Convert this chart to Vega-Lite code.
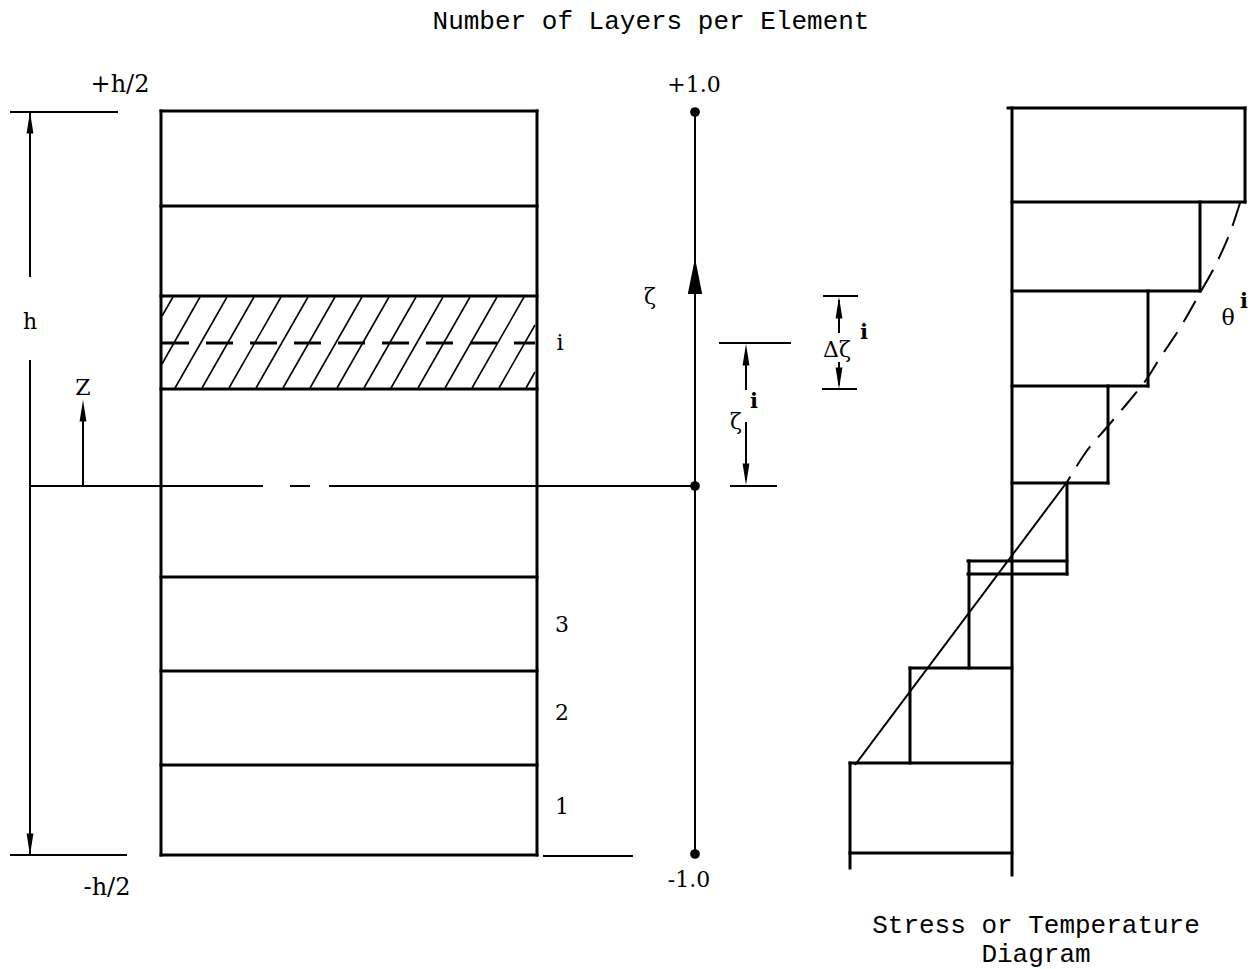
{
  "$schema": "https://vega.github.io/schema/vega-lite/v6.json",
  "width": 1253,
  "height": 969,
  "autosize": {"type": "fit", "contains": "padding"},
  "padding": 0,
  "background": "white",
  "config": {"view": {"stroke": null}},
  "datasets": {
    "segs": [
      {"g": "thick", "x": 161, "y": 111, "x2": 537, "y2": 111},
      {"g": "thick", "x": 161, "y": 855, "x2": 537, "y2": 855},
      {"g": "thick", "x": 161, "y": 111, "x2": 161, "y2": 855},
      {"g": "thick", "x": 537, "y": 111, "x2": 537, "y2": 855},
      {"g": "thick", "x": 161, "y": 206, "x2": 537, "y2": 206},
      {"g": "thick", "x": 161, "y": 296, "x2": 537, "y2": 296},
      {"g": "thick", "x": 161, "y": 389, "x2": 537, "y2": 389},
      {"g": "thick", "x": 161, "y": 577, "x2": 537, "y2": 577},
      {"g": "thick", "x": 161, "y": 671, "x2": 537, "y2": 671},
      {"g": "thick", "x": 161, "y": 765, "x2": 537, "y2": 765},
      {"g": "thick", "x": 1012, "y": 108, "x2": 1012, "y2": 875},
      {"g": "thick", "x": 1008, "y": 108, "x2": 1245, "y2": 108},
      {"g": "thick", "x": 1245, "y": 108, "x2": 1245, "y2": 202},
      {"g": "thick", "x": 1012, "y": 202, "x2": 1245, "y2": 202},
      {"g": "thick", "x": 1200, "y": 202, "x2": 1200, "y2": 291},
      {"g": "thick", "x": 1012, "y": 291, "x2": 1200, "y2": 291},
      {"g": "thick", "x": 1148, "y": 291, "x2": 1148, "y2": 386},
      {"g": "thick", "x": 1012, "y": 386, "x2": 1148, "y2": 386},
      {"g": "thick", "x": 1108, "y": 386, "x2": 1108, "y2": 483},
      {"g": "thick", "x": 1012, "y": 483, "x2": 1108, "y2": 483},
      {"g": "thick", "x": 1067, "y": 483, "x2": 1067, "y2": 574},
      {"g": "thick", "x": 968, "y": 561, "x2": 1067, "y2": 561},
      {"g": "thick", "x": 968, "y": 574, "x2": 1067, "y2": 574},
      {"g": "thick", "x": 969, "y": 561, "x2": 969, "y2": 668},
      {"g": "thick", "x": 910, "y": 668, "x2": 1012, "y2": 668},
      {"g": "thick", "x": 910, "y": 668, "x2": 910, "y2": 763},
      {"g": "thick", "x": 850, "y": 763, "x2": 1012, "y2": 763},
      {"g": "thick", "x": 850, "y": 763, "x2": 850, "y2": 868},
      {"g": "thick", "x": 850, "y": 853, "x2": 1012, "y2": 853},
      {"g": "thin", "x": 30, "y": 112, "x2": 30, "y2": 277},
      {"g": "thin", "x": 30, "y": 360, "x2": 30, "y2": 855},
      {"g": "thin", "x": 10, "y": 112, "x2": 118, "y2": 112},
      {"g": "thin", "x": 10, "y": 855, "x2": 127, "y2": 855},
      {"g": "thin", "x": 543, "y": 856, "x2": 633, "y2": 856},
      {"g": "thin", "x": 83, "y": 486, "x2": 83, "y2": 410},
      {"g": "thin", "x": 30, "y": 486, "x2": 263, "y2": 486},
      {"g": "thin", "x": 290, "y": 486, "x2": 310, "y2": 486},
      {"g": "thin", "x": 329, "y": 486, "x2": 695, "y2": 486},
      {"g": "thin", "x": 695, "y": 112, "x2": 695, "y2": 855},
      {"g": "thin", "x": 719, "y": 343, "x2": 791, "y2": 343},
      {"g": "thin", "x": 746, "y": 350, "x2": 746, "y2": 390},
      {"g": "thin", "x": 746, "y": 422, "x2": 746, "y2": 480},
      {"g": "thin", "x": 730, "y": 486, "x2": 777, "y2": 486},
      {"g": "thin", "x": 823, "y": 296, "x2": 858, "y2": 296},
      {"g": "thin", "x": 839, "y": 300, "x2": 839, "y2": 333},
      {"g": "thin", "x": 839, "y": 362, "x2": 839, "y2": 385},
      {"g": "thin", "x": 822, "y": 389, "x2": 857, "y2": 389},
      {"g": "thin", "x": 855, "y": 765, "x2": 1067, "y2": 482},
      {"g": "hatch", "x": 162, "y": 316, "x2": 173, "y2": 297},
      {"g": "hatch", "x": 162, "y": 364, "x2": 200, "y2": 297},
      {"g": "hatch", "x": 175, "y": 388, "x2": 227, "y2": 297},
      {"g": "hatch", "x": 202, "y": 388, "x2": 254, "y2": 297},
      {"g": "hatch", "x": 229, "y": 388, "x2": 281, "y2": 297},
      {"g": "hatch", "x": 256, "y": 388, "x2": 308, "y2": 297},
      {"g": "hatch", "x": 283, "y": 388, "x2": 335, "y2": 297},
      {"g": "hatch", "x": 310, "y": 388, "x2": 362, "y2": 297},
      {"g": "hatch", "x": 337, "y": 388, "x2": 389, "y2": 297},
      {"g": "hatch", "x": 364, "y": 388, "x2": 416, "y2": 297},
      {"g": "hatch", "x": 391, "y": 388, "x2": 443, "y2": 297},
      {"g": "hatch", "x": 418, "y": 388, "x2": 470, "y2": 297},
      {"g": "hatch", "x": 445, "y": 388, "x2": 497, "y2": 297},
      {"g": "hatch", "x": 472, "y": 388, "x2": 524, "y2": 297},
      {"g": "hatch", "x": 499, "y": 388, "x2": 535, "y2": 325},
      {"g": "hatch", "x": 526, "y": 388, "x2": 535, "y2": 372},
      {"g": "dash", "x": 162, "y": 343, "x2": 535, "y2": 343}
    ],
    "curve": [
      {"o": 1, "x": 1240, "y": 203},
      {"o": 2, "x": 1231, "y": 230},
      {"o": 3, "x": 1218, "y": 260},
      {"o": 4, "x": 1200, "y": 293},
      {"o": 5, "x": 1180, "y": 328},
      {"o": 6, "x": 1160, "y": 358},
      {"o": 7, "x": 1146, "y": 380},
      {"o": 8, "x": 1130, "y": 400},
      {"o": 9, "x": 1108, "y": 426},
      {"o": 10, "x": 1086, "y": 452},
      {"o": 11, "x": 1067, "y": 482}
    ],
    "pts": [
      {"g": "dot", "x": 695, "y": 112},
      {"g": "dot", "x": 695, "y": 486},
      {"g": "dot", "x": 695, "y": 854},
      {"g": "up", "x": 30, "y": 112},
      {"g": "up", "x": 83, "y": 400},
      {"g": "up", "x": 746, "y": 344},
      {"g": "up", "x": 839, "y": 297},
      {"g": "down", "x": 30, "y": 855},
      {"g": "down", "x": 746, "y": 485},
      {"g": "down", "x": 839, "y": 389},
      {"g": "bigup", "x": 695, "y": 258}
    ],
    "labels": [
      {"g": "mono", "x": 651, "y": 21, "t": "Number of Layers per Element"},
      {"g": "mono", "x": 1036, "y": 925, "t": "Stress or Temperature"},
      {"g": "mono", "x": 1036, "y": 954, "t": "Diagram"},
      {"g": "big", "x": 120, "y": 85, "t": "+h/2"},
      {"g": "big", "x": 107, "y": 888, "t": "-h/2"},
      {"g": "med", "x": 694, "y": 85, "t": "+1.0"},
      {"g": "med", "x": 689, "y": 880, "t": "-1.0"},
      {"g": "med", "x": 30, "y": 322, "t": "h"},
      {"g": "med", "x": 83, "y": 388, "t": "Z"},
      {"g": "med", "x": 560, "y": 343, "t": "i"},
      {"g": "med", "x": 562, "y": 625, "t": "3"},
      {"g": "med", "x": 562, "y": 713, "t": "2"},
      {"g": "med", "x": 562, "y": 807, "t": "1"},
      {"g": "med", "x": 650, "y": 297, "t": "ζ"},
      {"g": "med", "x": 736, "y": 422, "t": "ζ"},
      {"g": "med", "x": 837, "y": 350, "t": "Δζ"},
      {"g": "med", "x": 1228, "y": 318, "t": "θ"},
      {"g": "sup", "x": 754, "y": 402, "t": "i"},
      {"g": "sup", "x": 864, "y": 333, "t": "i"},
      {"g": "sup", "x": 1244, "y": 302, "t": "i"}
    ]
  },
  "encoding": {
    "x": {"field": "x", "type": "quantitative", "axis": null, "scale": {"domain": [0, 1253], "nice": false, "zero": false}},
    "y": {"field": "y", "type": "quantitative", "axis": null, "scale": {"domain": [0, 969], "nice": false, "zero": false, "reverse": true}}
  },
  "layer": [
    {
      "data": {"name": "segs"},
      "transform": [{"filter": "datum.g === 'hatch'"}],
      "mark": {"type": "rule", "color": "black", "strokeWidth": 1.6},
      "encoding": {"x2": {"field": "x2"}, "y2": {"field": "y2"}}
    },
    {
      "data": {"name": "segs"},
      "transform": [{"filter": "datum.g === 'thin'"}],
      "mark": {"type": "rule", "color": "black", "strokeWidth": 2},
      "encoding": {"x2": {"field": "x2"}, "y2": {"field": "y2"}}
    },
    {
      "data": {"name": "segs"},
      "transform": [{"filter": "datum.g === 'thick'"}],
      "mark": {"type": "rule", "color": "black", "strokeWidth": 3, "strokeCap": "square"},
      "encoding": {"x2": {"field": "x2"}, "y2": {"field": "y2"}}
    },
    {
      "data": {"name": "segs"},
      "transform": [{"filter": "datum.g === 'dash'"}],
      "mark": {"type": "rule", "color": "black", "strokeWidth": 3, "strokeDash": [27, 17]},
      "encoding": {"x2": {"field": "x2"}, "y2": {"field": "y2"}}
    },
    {
      "data": {"name": "curve"},
      "mark": {"type": "line", "color": "black", "strokeWidth": 2, "strokeDash": [24, 12], "interpolate": "monotone"},
      "encoding": {"order": {"field": "o", "type": "quantitative"}}
    },
    {
      "data": {"name": "pts"},
      "transform": [{"filter": "datum.g === 'dot'"}],
      "mark": {"type": "point", "shape": "circle", "filled": true, "color": "black", "size": 95, "opacity": 1}
    },
    {
      "data": {"name": "pts"},
      "transform": [{"filter": "datum.g === 'up'"}],
      "mark": {"type": "point", "shape": "M0,0L0.32,2L-0.32,2Z", "filled": true, "color": "black", "size": 460, "opacity": 1}
    },
    {
      "data": {"name": "pts"},
      "transform": [{"filter": "datum.g === 'down'"}],
      "mark": {"type": "point", "shape": "M0,0L0.32,-2L-0.32,-2Z", "filled": true, "color": "black", "size": 460, "opacity": 1}
    },
    {
      "data": {"name": "pts"},
      "transform": [{"filter": "datum.g === 'bigup'"}],
      "mark": {"type": "point", "shape": "M0,0L0.4,2L-0.4,2Z", "filled": true, "color": "black", "size": 1296, "opacity": 1}
    },
    {
      "data": {"name": "labels"},
      "transform": [{"filter": "datum.g === 'mono'"}],
      "mark": {"type": "text", "font": "Liberation Mono", "fontSize": 26, "color": "black", "align": "center", "baseline": "middle"},
      "encoding": {"text": {"field": "t"}}
    },
    {
      "data": {"name": "labels"},
      "transform": [{"filter": "datum.g === 'big'"}],
      "mark": {"type": "text", "font": "DejaVu Serif", "fontSize": 24, "color": "black", "align": "center", "baseline": "middle"},
      "encoding": {"text": {"field": "t"}}
    },
    {
      "data": {"name": "labels"},
      "transform": [{"filter": "datum.g === 'med'"}],
      "mark": {"type": "text", "font": "DejaVu Serif", "fontSize": 22, "color": "black", "align": "center", "baseline": "middle"},
      "encoding": {"text": {"field": "t"}}
    },
    {
      "data": {"name": "labels"},
      "transform": [{"filter": "datum.g === 'sup'"}],
      "mark": {"type": "text", "font": "DejaVu Serif", "fontSize": 21, "fontWeight": "bold", "color": "black", "align": "center", "baseline": "middle"},
      "encoding": {"text": {"field": "t"}}
    }
  ]
}
